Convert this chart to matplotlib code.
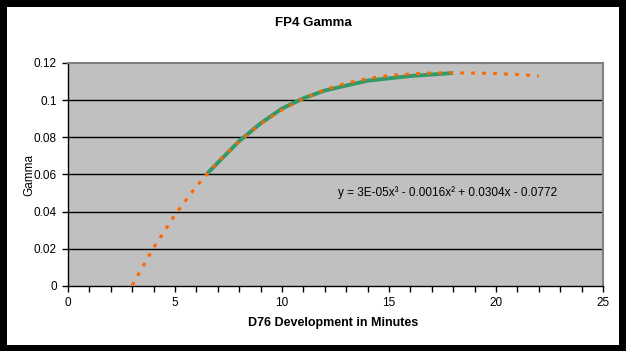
import numpy as np
import matplotlib
matplotlib.use("Agg")
import matplotlib.pyplot as plt
from matplotlib.ticker import MultipleLocator

plt.rcParams['font.family'] = ['Liberation Sans', 'DejaVu Sans']

# measured gamma vs development time
minutes = [6.5, 8, 9, 10, 11, 12, 14, 16, 18]
gamma = [0.0605, 0.0780, 0.0875, 0.0955, 0.1010, 0.1052, 0.1105, 0.1130, 0.1146]

# polynomial trendline (3 to 22 minutes)
trend_x = list(range(3, 23))
trend_y = [0.0004, 0.0206, 0.0383, 0.0537, 0.0668, 0.0779, 0.0872, 0.0948,
           0.1009, 0.1056, 0.1091, 0.1116, 0.1133, 0.1141, 0.1146, 0.1147,
           0.1146, 0.1143, 0.1138, 0.1130]
equation = "y = 3E-05x³ - 0.0016x² + 0.0304x - 0.0772"

W, H = 626, 351
fig = plt.figure(figsize=(W / 100, H / 100), dpi=100, facecolor='black')

# white chart area inside the black frame
bg = fig.add_axes([7 / W, 1 - 345 / H, 612 / W, 338 / H])
bg.set_facecolor('white')
bg.set_xticks([])
bg.set_yticks([])
for s in bg.spines.values():
    s.set_visible(False)
bg.set_zorder(-1)

ax = fig.add_axes([68 / W, 1 - 286 / H, 535 / W, 223 / H])
ax.set_facecolor('#c0c0c0')

for y in np.arange(0.02, 0.12, 0.02):
    ax.axhline(y, color='black', lw=1, zorder=1)

ax.plot(minutes, gamma, color='#339966', lw=2.8, zorder=2,
        solid_capstyle='butt', solid_joinstyle='round')
ax.plot(trend_x, trend_y, color='#ff6600', lw=2.2,
        linestyle=(0, (1.2, 2.4)), zorder=3)

ax.set_xlim(0, 25)
ax.set_ylim(0, 0.12)
ax.xaxis.set_major_locator(MultipleLocator(5))
ax.xaxis.set_minor_locator(MultipleLocator(1))
ax.set_yticks([0, 0.02, 0.04, 0.06, 0.08, 0.1, 0.12])
ax.set_yticklabels(['0', '0.02', '0.04', '0.06', '0.08', '0.1', '0.12'])
ax.tick_params(axis='both', which='major', length=4, width=1, labelsize=8.5,
               direction='out', pad=4)
ax.tick_params(axis='x', which='minor', length=4, width=1, direction='out')

for side in ['left', 'bottom']:
    ax.spines[side].set_color('black')
    ax.spines[side].set_linewidth(1)
for side in ['top', 'right']:
    ax.spines[side].set_color('#808080')
    ax.spines[side].set_linewidth(1.5)

ax.text(12.6, 0.050, equation, fontsize=8.5, va='center', ha='left')

fig.text(313 / W, 1 - 23 / H, 'FP4 Gamma', ha='center', va='center',
         fontsize=9.5, fontweight='bold')
fig.text(333 / W, 1 - 323 / H, 'D76 Development in Minutes', ha='center',
         va='center', fontsize=9, fontweight='bold')
fig.text(29 / W, 1 - 175 / H, 'Gamma', ha='center', va='center',
         fontsize=8.5, rotation=90)

fig.savefig('out.png', dpi=100, facecolor='black')
